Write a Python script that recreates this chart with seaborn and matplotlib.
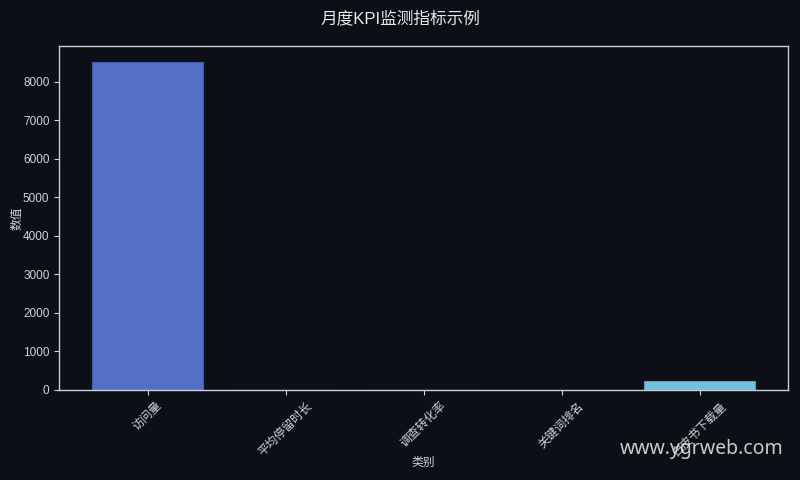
import matplotlib
matplotlib.use("Agg")
import matplotlib.pyplot as plt
import seaborn as sns
import pandas as pd

categories = ["访问量", "平均停留时长", "调查转化率", "关键词排名", "白皮书下载量"]
values = [8500, 3.5, 2.8, 12, 230]
colors = ["#5470c6", "#91cc75", "#fac858", "#ee6666", "#73c0de"]

BG = "#0c0f15"
FG = "#d0d4da"

sns.set_theme(style="dark")
plt.rcParams["font.family"] = ["Liberation Sans", "Noto Sans CJK SC", "DejaVu Sans"]

df = pd.DataFrame({"类别": categories, "数值": values})

fig = plt.figure(figsize=(8, 4.8), dpi=100, facecolor=BG)
ax = fig.add_axes([0.074, 0.1875, 0.911, 0.7165])
ax.set_facecolor(BG)

sns.barplot(data=df, x="类别", y="数值", hue="类别", palette=colors,
            saturation=1, legend=False, ax=ax, width=0.8, linewidth=0.8)

for p in ax.patches:
    r, g, b, _ = p.get_facecolor()
    p.set_edgecolor((r * 0.8, g * 0.8, b * 0.85, 1))

ax.set_xlim(-0.64, 4.64)
ax.set_ylim(0, 8925)

for s in ax.spines.values():
    s.set_visible(True)
    s.set_color("#c9ced6")
    s.set_linewidth(1.0)

ax.tick_params(axis="both", colors=FG, labelsize=8.5, length=3.5, width=0.8,
               bottom=True, left=True)
plt.setp(ax.get_xticklabels(), rotation=45, ha="center", rotation_mode="default")
ax.set_xlabel("类别", color=FG, fontsize=8.5, labelpad=-1)
ax.set_ylabel("数值", color=FG, fontsize=8.5, labelpad=-0.5)
ax.grid(False)

fig.suptitle("月度KPI监测指标示例", color="#e6e8eb", fontsize=12, y=0.978)

fig.text(0.877, 0.064, "www.ygrweb.com", color="#e0e0e0", alpha=0.9,
         fontsize=14, ha="center", va="center", family=["Noto Sans", "DejaVu Sans"])

fig.savefig("out.png", dpi=100, facecolor=BG)
